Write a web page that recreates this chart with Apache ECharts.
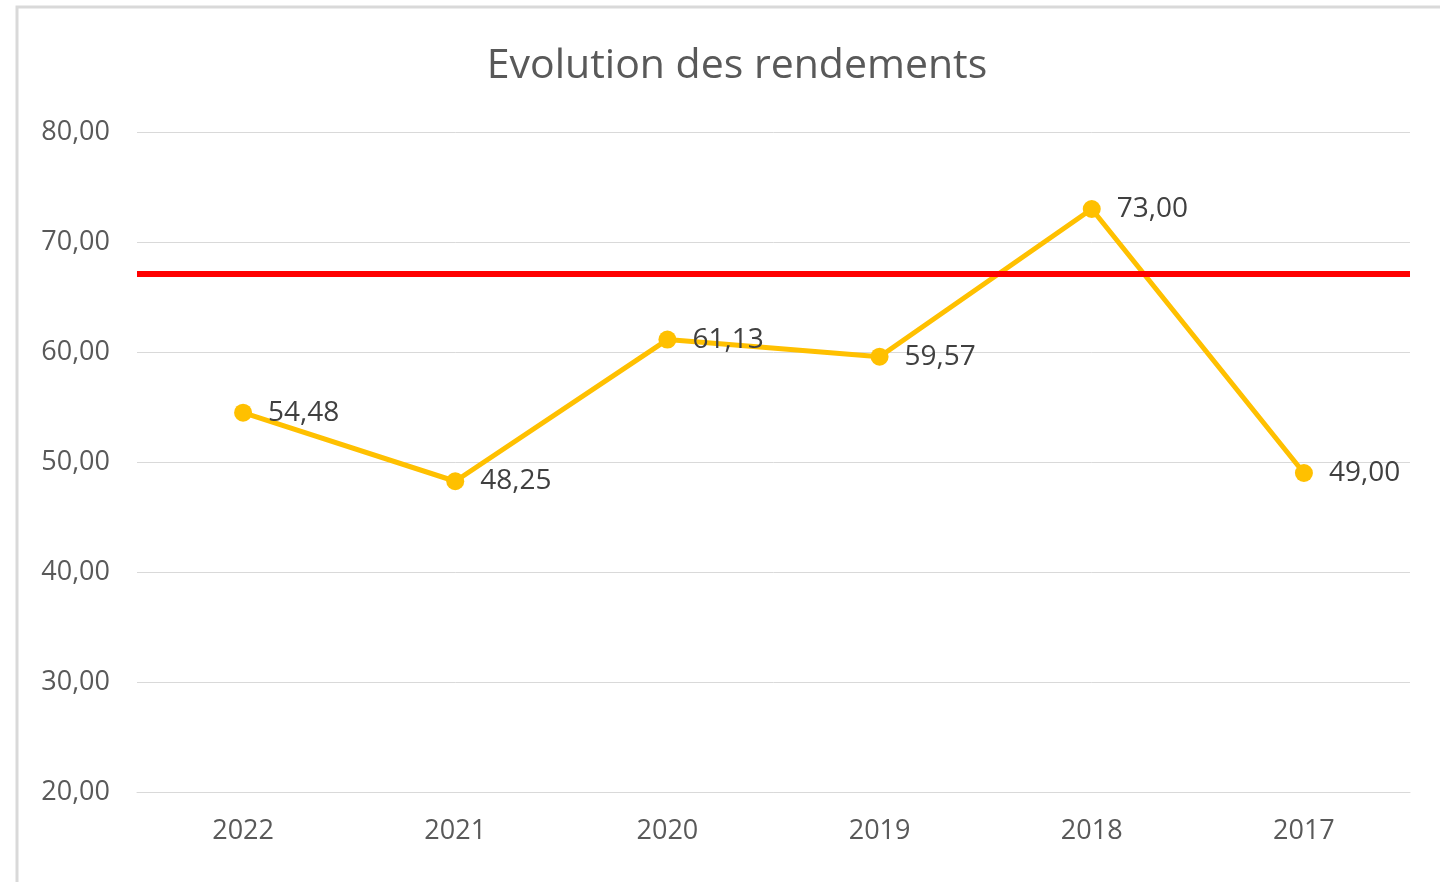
<!DOCTYPE html>
<html>
<head>
<meta charset="utf-8">
<title>Evolution des rendements</title>
<script src="https://cdn.jsdelivr.net/npm/echarts@6/dist/echarts.min.js"></script>
<style>
  html, body { margin: 0; padding: 0; background: #fff; }
  #chart { width: 1440px; height: 882px; }
</style>
</head>
<body>
<div id="chart"></div>
<script>
// données
var annees = ['2022', '2021', '2020', '2019', '2018', '2017'];
var rendements = [54.48, 48.25, 61.13, 59.57, 73.00, 49.00];
var moyenne = 67.15; // trait rouge
var yMin = 20, yMax = 80, yPas = 10;

function virgule(v) {
    return Number(v).toFixed(2).replace('.', ',');
}

var myChart = echarts.init(document.getElementById('chart'));
var option = {
    backgroundColor: '#fff',
    textStyle: { fontFamily: 'Open Sans' },
    title: {
        text: 'Evolution des rendements',
        left: 732,
        textAlign: 'center',
        top: 41,
        textStyle: { fontSize: 41, fontWeight: 'normal', color: '#595959', fontFamily: 'Open Sans' }
    },
    graphic: [{
        type: 'rect',
        silent: true,
        shape: { x: 17, y: 7, width: 1600, height: 1000 },
        style: { fill: 'none', stroke: '#d9d9d9', lineWidth: 3 }
    }],
    grid: { left: 137, right: 30, top: 132, bottom: 90 },
    xAxis: {
        type: 'category',
        data: annees,
        boundaryGap: true,
        axisLine: { lineStyle: { color: '#d9d9d9', width: 1 } },
        axisTick: { show: false },
        axisLabel: { color: '#595959', fontSize: 27, margin: 26 }
    },
    yAxis: {
        type: 'value',
        min: yMin,
        max: yMax,
        interval: yPas,
        axisLine: { show: false },
        axisTick: { show: false },
        splitLine: { lineStyle: { color: '#d9d9d9', width: 1 } },
        axisLabel: { color: '#595959', fontSize: 27, margin: 27, formatter: virgule, padding: [4, 0, 0, 0] }
    },
    series: [{
        name: 'Rendement',
        type: 'line',
        data: rendements,
        symbol: 'circle',
        symbolSize: 18,
        lineStyle: { color: '#FFC000', width: 5 },
        itemStyle: { color: '#FFC000' },
        label: {
            show: true,
            position: 'right',
            distance: 16,
            color: '#404040',
            fontSize: 28,
            padding: [4, 0, 0, 0],
            formatter: function (p) { return virgule(p.value); }
        },
        z: 2
    }, {
        name: 'Moyenne',
        type: 'line',
        data: [],
        z: 5,
        markLine: {
            silent: true,
            symbol: 'none',
            label: { show: false },
            lineStyle: { color: '#FF0000', width: 6, type: 'solid' },
            data: [{ yAxis: moyenne }]
        }
    }]
};
myChart.setOption(option);
</script>
</body>
</html>
